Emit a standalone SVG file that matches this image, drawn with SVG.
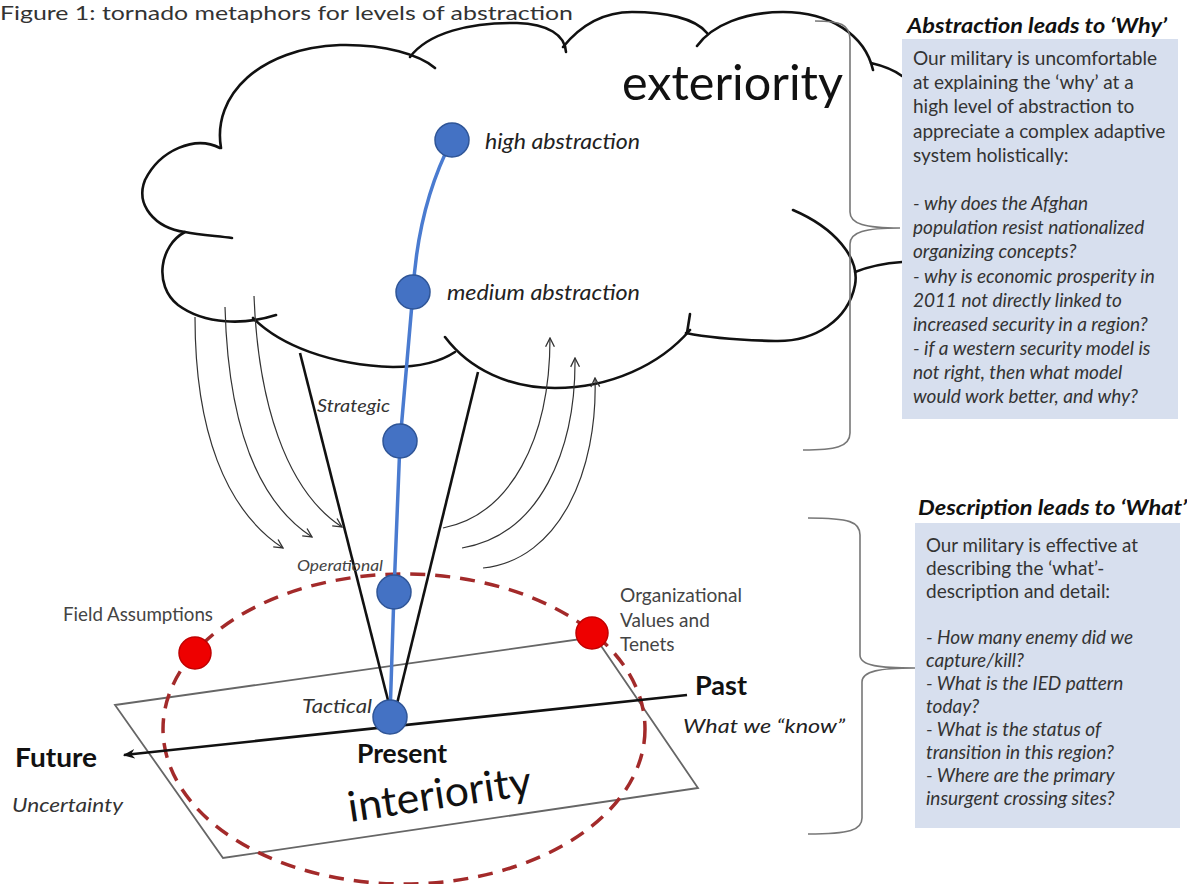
<svg xmlns="http://www.w3.org/2000/svg" width="1187" height="884" viewBox="0 0 1187 884">
<defs>
<style>
text{font-family:Lato,"Open Sans","Liberation Sans",sans-serif;fill:#222}
.cloud{fill:none;stroke:#111;stroke-width:2.6;stroke-linecap:round}
.flow{fill:none;stroke:#333;stroke-width:1.2}
.brace{fill:none;stroke:#777;stroke-width:1.6}
.box{fill:#d7dfee}
.body{font-size:19px;fill:#333}
.bi{font-size:19px;fill:#333;font-style:italic}
.ttl{font-size:20px;font-weight:bold;font-style:italic;fill:#111}
.lbl{font-style:italic;fill:#222}
.big{font-weight:bold;font-size:26px;fill:#111}
.blue{fill:#4472c4;stroke:#2f5597;stroke-width:1.5}
.red{fill:#ee0000;stroke:#c00000;stroke-width:1.5}
</style>
<marker id="open" viewBox="0 0 10 10" refX="9" refY="5" markerWidth="11" markerHeight="11" markerUnits="userSpaceOnUse" orient="auto">
<path d="M1,1 L9,5 L1,9" fill="none" stroke="#333" stroke-width="1.2"/>
</marker>
<marker id="solid" viewBox="0 0 10 10" refX="9" refY="5" markerWidth="12" markerHeight="12" markerUnits="userSpaceOnUse" orient="auto">
<path d="M0,1 L10,5 L0,9 L3,5 z" fill="#111"/>
</marker>
</defs>
<rect width="1187" height="884" fill="#fff"/>

<text x="0" y="20" font-size="19" textLength="573" lengthAdjust="spacingAndGlyphs" style="fill:#333">Figure 1: tornado metaphors for levels of abstraction</text>

<g id="cloud">
<path class="cloud" d="M221,148 C212,95 260,48 340,45 C385,44 420,55 435,68"/>
<path class="cloud" d="M410,57 C428,33 470,22 517,23 C548,24 565,35 566,52"/>
<path class="cloud" d="M563,47 C585,20 610,12 632,12 C665,12 695,18 707,33"/>
<path class="cloud" d="M697,46 C712,25 745,12 783,12 C830,12 865,35 873,70"/>
<path class="cloud" d="M871,63 C884,66 894,70 902,76"/>
<path class="cloud" d="M793,210 C835,228 860,258 855,285 C848,320 815,342 775,341 C735,340 705,337 686,333"/>
<path class="cloud" d="M855,272 C870,266 888,263 902,262"/>
<path class="cloud" d="M690,314 L687,333"/>
<path class="cloud" d="M445,337 C470,370 510,388 555,388 C610,388 660,365 690,330"/>
<path class="cloud" d="M253,318 C280,345 330,365 393,367 C420,367 440,362 455,352"/>
<path class="cloud" d="M185,232 C160,245 153,285 178,305 C205,325 245,325 276,315"/>
<path class="cloud" d="M220,148 C195,135 160,150 145,180 C135,205 155,228 185,232 C200,235 218,236 232,238"/>
<text x="622" y="100" font-size="48" textLength="221" lengthAdjust="spacingAndGlyphs" style="fill:#111">exteriority</text>
</g>

<g id="plane">
<path d="M115,705 L595,637 L698,788 L223,858 Z" fill="none" stroke="#666" stroke-width="1.8"/>
</g>

<g id="ellipse">
<ellipse cx="404" cy="729" rx="241" ry="155" fill="none" stroke="#a32a2a" stroke-width="3.5" stroke-dasharray="15 10"/>
</g>

<g id="connectors">
<line x1="687" y1="695" x2="124" y2="755" stroke="#111" stroke-width="2.6" marker-end="url(#solid)"/>
<line x1="300" y1="353" x2="392" y2="716" stroke="#111" stroke-width="2.6"/>
<line x1="478" y1="372" x2="394" y2="716" stroke="#111" stroke-width="2.6"/>
<path d="M452,140 Q418,205 413,292 L400,442 L394,592 L390,717" fill="none" stroke="#4a7bd0" stroke-width="3.5"/>
<path class="flow" marker-end="url(#open)" d="M195,317 C195,430 225,510 283,548"/>
<path class="flow" marker-end="url(#open)" d="M225,307 C228,420 255,500 312,537"/>
<path class="flow" marker-end="url(#open)" d="M254,296 C258,400 285,490 342,527"/>
<path class="flow" marker-end="url(#open)" d="M443,528 C510,515 550,440 550,338"/>
<path class="flow" marker-end="url(#open)" d="M462,548 C540,535 576,450 575,358"/>
<path class="flow" marker-end="url(#open)" d="M483,568 C560,560 598,470 595,378"/>
<path class="brace" d="M815,21 C840,21 850,24 850,40 L850,212 C850,224 865,228 900,228 C865,228 850,232 850,244 L850,433 C850,447 835,450 803,450"/>
<path class="brace" d="M808,518 C850,518 860,522 860,535 L860,655 C860,666 880,668 915,668 C880,668 862,671 862,682 L862,818 C862,830 850,834 808,834"/>
</g>

<g id="node-high"><circle class="blue" cx="452" cy="140" r="17"/><text class="lbl" x="485" y="149" font-size="22" textLength="155" lengthAdjust="spacingAndGlyphs">high abstraction</text></g>
<g id="node-medium"><circle class="blue" cx="413" cy="292" r="17"/><text class="lbl" x="447" y="300" font-size="22" textLength="193" lengthAdjust="spacingAndGlyphs">medium abstraction</text></g>
<g id="node-strategic"><circle class="blue" cx="400" cy="441" r="17"/><text class="lbl" x="317" y="412" font-size="18" textLength="73" lengthAdjust="spacingAndGlyphs" style="fill:#333">Strategic</text></g>
<g id="node-operational"><circle class="blue" cx="394" cy="592" r="17"/><text class="lbl" x="297" y="571" font-size="16" textLength="86" lengthAdjust="spacingAndGlyphs" style="fill:#444">Operational</text></g>
<g id="node-present"><circle class="blue" cx="390" cy="717" r="17"/>
<text class="lbl" x="302" y="713" font-size="20" textLength="70" lengthAdjust="spacingAndGlyphs" style="fill:#333">Tactical</text>
<text class="big" x="357" y="763" textLength="90" lengthAdjust="spacingAndGlyphs">Present</text>
<text x="350" y="822" font-size="42" transform="rotate(-8.5 350 822)" textLength="185" lengthAdjust="spacingAndGlyphs" style="fill:#111">interiority</text></g>
<g id="node-field"><circle class="red" cx="195" cy="653" r="16"/><text x="63" y="621" font-size="19" textLength="150" lengthAdjust="spacingAndGlyphs" style="fill:#444">Field Assumptions</text></g>
<g id="node-org"><circle class="red" cx="592" cy="633" r="16"/>
<text x="620" y="602" font-size="19" style="fill:#444"><tspan x="620" textLength="122" lengthAdjust="spacingAndGlyphs">Organizational</tspan><tspan x="620" y="627">Values and</tspan><tspan x="620" y="651">Tenets</tspan></text></g>
<g id="past"><text class="big" x="695" y="695" textLength="52" lengthAdjust="spacingAndGlyphs">Past</text>
<text class="lbl" x="683" y="733" font-size="19" textLength="162" lengthAdjust="spacingAndGlyphs" style="fill:#222">What we “know”</text></g>
<g id="future"><text class="big" x="15" y="767" textLength="82" lengthAdjust="spacingAndGlyphs">Future</text>
<text class="lbl" x="12" y="812" font-size="20" textLength="111" lengthAdjust="spacingAndGlyphs" style="fill:#333">Uncertainty</text></g>

<g id="box-why">
<text class="ttl" x="907" y="33" textLength="260" lengthAdjust="spacingAndGlyphs">Abstraction leads to ‘Why’</text>
<rect class="box" x="902" y="39" width="276" height="380"/>
<text class="body" x="913" y="65" textLength="244" lengthAdjust="spacingAndGlyphs">Our military is uncomfortable</text>
<text class="body" x="913" y="89">at explaining the ‘why’ at a</text>
<text class="body" x="913" y="113">high level of abstraction to</text>
<text class="body" x="913" y="138">appreciate a complex adaptive</text>
<text class="body" x="913" y="162">system holistically:</text>
<text class="bi" x="913" y="210">- why does the Afghan</text>
<text class="bi" x="913" y="234">population resist nationalized</text>
<text class="bi" x="913" y="258">organizing concepts?</text>
<text class="bi" x="913" y="283">- why is economic prosperity in</text>
<text class="bi" x="913" y="307">2011 not directly linked to</text>
<text class="bi" x="913" y="331">increased security in a region?</text>
<text class="bi" x="913" y="355">- if a western security model is</text>
<text class="bi" x="913" y="379">not right, then what model</text>
<text class="bi" x="913" y="403">would work better, and why?</text>
</g>

<g id="box-what">
<text class="ttl" x="918" y="515" textLength="269" lengthAdjust="spacingAndGlyphs">Description leads to ‘What’</text>
<rect class="box" x="915" y="523" width="265" height="305"/>
<text class="body" x="926" y="552" textLength="212" lengthAdjust="spacingAndGlyphs">Our military is effective at</text>
<text class="body" x="926" y="575">describing the ‘what’-</text>
<text class="body" x="926" y="598">description and detail:</text>
<text class="bi" x="926" y="644">- How many enemy did we</text>
<text class="bi" x="926" y="667">capture/kill?</text>
<text class="bi" x="926" y="690">- What is the IED pattern</text>
<text class="bi" x="926" y="713">today?</text>
<text class="bi" x="926" y="736">- What is the status of</text>
<text class="bi" x="926" y="759">transition in this region?</text>
<text class="bi" x="926" y="782">- Where are the primary</text>
<text class="bi" x="926" y="805">insurgent crossing sites?</text>
</g>
</svg>
